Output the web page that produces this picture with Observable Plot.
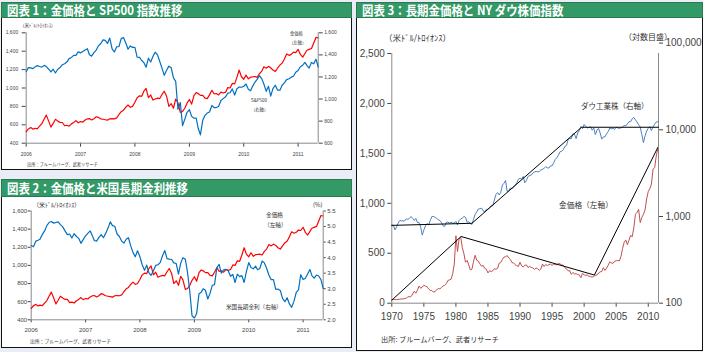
<!DOCTYPE html>
<html><head><meta charset="utf-8">
<script src="https://cdn.jsdelivr.net/npm/d3@7"></script>
<script src="https://cdn.jsdelivr.net/npm/@observablehq/plot@0.6"></script>
<style>
body{margin:0;background:#fff;}
#page{position:relative;width:703px;height:352px;background:#eaedf6;overflow:hidden;font-family:"Noto Sans CJK JP",sans-serif;}
.box{position:absolute;background:#fff;border:1px solid #111;box-sizing:border-box;}
.hdr{position:absolute;background:#339966;color:#fff;font-weight:bold;font-size:13px;line-height:1;white-space:nowrap;box-sizing:border-box;border:1px solid #2a7a50;}
.hdr span{position:absolute;top:50%;transform:translateY(-52%) scaleX(0.88);transform-origin:0 50%;}
.note{position:absolute;white-space:nowrap;color:#333;line-height:1;transform:translateY(-50%);}
</style></head>
<body><div id="page"></div>
<script>
// ---------- data: chart 1 & 2 (half-monthly, 2006-01 .. 2011-05) ----------
const gold = [
525,555,570,552,562,555,585,612,660,705,640,575,615,660,640,625,625,590,595,585,610,625,645,622,
635,630,652,665,668,652,665,688,680,665,660,655,650,665,668,665,675,712,742,757,792,815,790,800,
845,895,915,910,965,995,895,925,870,880,890,885,930,965,910,800,830,780,880,840,735,745,780,835,
875,825,920,950,940,920,920,890,885,925,975,935,940,925,955,945,955,1005,1000,1050,1045,1115,1195,1125,
1095,1140,1100,1118,1120,1125,1115,1155,1180,1230,1215,1235,1220,1195,1180,1215,1250,1270,1315,1370,1355,1365,1390,1385,
1420,1365,1335,1375,1410,1420,1430,1490,1550,1545];
const sp500 = [
1248,1285,1282,1275,1291,1303,1295,1289,1305,1294,1270,1245,1270,1236,1270,1285,1311,1320,1335,1366,1377,1396,1396,1427,
1418,1431,1445,1456,1403,1388,1420,1444,1482,1501,1536,1532,1503,1552,1455,1426,1473,1476,1547,1557,1508,1451,1481,1468,
1468,1380,1378,1349,1330,1288,1370,1335,1385,1424,1400,1340,1280,1215,1260,1298,1283,1192,1160,907,968,760,816,880,
903,843,826,827,735,676,811,852,873,882,942,923,923,932,987,1004,1021,1053,1057,1092,1036,1093,1109,1107,
1115,1136,1089,1075,1115,1150,1178,1211,1187,1136,1070,1115,1027,1095,1125,1080,1080,1125,1146,1176,1184,1198,1206,1242,
1258,1293,1307,1332,1305,1281,1332,1319,1361,1290];
const us10y = [
4.39,4.35,4.53,4.56,4.59,4.74,4.86,5.03,5.13,5.16,5.11,5.13,5.15,5.06,4.99,4.86,4.74,4.76,4.63,4.77,4.68,4.62,4.46,4.58,
4.70,4.78,4.86,4.70,4.55,4.53,4.65,4.74,4.64,4.78,4.95,5.15,5.03,5.01,4.76,4.68,4.53,4.47,4.59,4.64,4.37,4.16,4.03,4.22,
4.03,3.78,3.59,3.76,3.52,3.43,3.58,3.75,3.77,3.84,4.06,4.23,3.97,3.95,3.94,3.83,3.81,3.47,3.82,4.00,3.95,3.52,2.92,2.13,
2.06,2.20,2.84,2.89,3.00,2.95,2.67,2.85,3.11,3.13,3.68,3.78,3.50,3.61,3.62,3.58,3.40,3.46,3.20,3.47,3.39,3.42,3.20,3.55,
3.84,3.68,3.64,3.73,3.61,3.65,3.89,3.83,3.66,3.44,3.29,3.29,2.98,2.99,2.94,2.69,2.58,2.71,2.51,2.40,2.60,2.88,2.96,3.45,
3.30,3.33,3.48,3.62,3.42,3.34,3.44,3.41,3.29,3.00];
const yearTicks12 = [2006,2007,2008,2009,2010,2011];

// ---------- data: chart 3 (quarterly, 1970 .. 2011.5) ----------
const goldLong = [
35,36,35,37, 38,40,42,43, 46,49,65,64, 66,92,120,100, 130,172,150,160, 180,170,165,142, 128,128,110,117, 132,149,143,158,
173,179,195,228, 233,240,296,392, 675,517,645,661, 557,495,410,428, 384,333,340,420, 480,430,422,393, 370,378,348,340,
303,325,317,325, 345,340,348,400, 408,438,462,465, 477,452,437,406, 404,385,375,368, 410,375,362,380, 383,357,368,358,
354,338,353,345, 329,342,392,367, 387,377,385,392, 379,391,387,383, 400,393,383,380, 355,344,324,325, 289,308,293,296,
287,282,256,299, 284,280,282,271, 266,261,268,279, 282,302,314,317, 356,328,351,379, 414,404,398,420, 424,428,424,469,
549,610,633,586, 631,679,665,754, 889,909,939,806, 858,890,934,1043, 1118,1148,1193,1343, 1356,1474,1550];
const dowLong = [
800,790,700,760, 840,900,890,890, 890,940,925,950, 1000,950,900,950, 850,850,760,610, 700,780,830,800, 900,1000,1000,980,
950,920,900,850, 780,770,860,860, 840,860,840,840, 880,800,900,940, 960,1000,980,860, 870,830,810,930, 1060,1130,1220,1230,
1250,1160,1130,1210, 1210,1270,1340,1330, 1550,1800,1890,1770, 1900,2300,2420,2600, 1940,1990,2130,2110, 2170,2300,2450,2690,
2750,2700,2900,2450, 2600,2900,2960,3000, 3170,3250,3320,3270, 3300,3440,3500,3600, 3750,3640,3620,3840, 3830,4160,4550,4780,
5100,5600,5650,5900, 6450,6600,7700,7950, 7900,9000,8900,7900, 9200,9800,10900,10300, 11500,10900,10500,10650,
10800,9900,10500,8800, 9900,10400,9200,7800, 8300,8300,9000,9500, 10500,10300,10400,10100, 10700,10500,10400,10500,
10800,11200,11100,11700, 12400,12400,13400,13900, 13000,12300,11400,10800, 8800,7100,8500,9700, 10400,10900,9800,10800,
11600,12300,12400];
const goldTrendYears = [1970, 1980.8, 2001.6, 2011.5];
const goldTrendValues = [30, 668, 282, 1560];
const dowTrendYears = [1970, 1982.5, 1999.6, 2011.6];
const dowTrendValues = [790, 835, 10700, 10700];
const yearTicks3 = [1970,1975,1980,1985,1990,1995,2000,2005,2010];

// ---------- derived ----------
const dates12 = gold.map((_, i) => new Date(Date.UTC(2006 + Math.floor(i / 24), Math.floor(i / 2) % 12, i % 2 ? 16 : 1)));
const dom12 = [dates12[0], dates12[dates12.length - 1]];
const yt12 = yearTicks12.map(y => new Date(Date.UTC(y, 0, 1)));
const years3 = goldLong.map((_, i) => 1970 + i / 4);
const dom3 = [1970, 2011.6];
const comma = d3.format(",");
const one = d3.format(".1f");

const page = document.getElementById("page");
const axisGray = "#8a8a8a";
function add(el){ el.style.position="absolute"; el.style.left="0"; el.style.top="0"; page.appendChild(el); }
function box(cls, x, y, w, h, txt){ const d=document.createElement("div"); d.className=cls; Object.assign(d.style,{left:x+"px",top:y+"px",width:w+"px",height:h+"px"}); if(txt){const s=document.createElement("span"); s.textContent=txt; s.style.left="5px"; d.appendChild(s);} page.appendChild(d); }
function note(t, x, y, size, extra){ const d=document.createElement("div"); d.className="note"; d.textContent=t; Object.assign(d.style,{left:x+"px",top:y+"px",fontSize:size+"px"}, extra||{}); page.appendChild(d); }
const st = (fs) => ({background:"transparent", overflow:"visible", fontFamily:"'Liberation Sans', Arial, sans-serif", fontSize: fs+"px", color:"#444"});

// panels
box("box", 1, 16, 351, 154);
box("hdr", 1, 2, 351, 16, "図表 1：金価格と SP500 指数推移");
box("box", 1, 195, 351, 153);
box("hdr", 1, 179, 351, 18, "図表 2：金価格と米国長期金利推移");
box("box", 356, 16, 347, 335);
box("hdr", 356, 2, 347, 16, "図表 3：長期金価格と NY ダウ株価指数");

// ---------- chart 1 ----------
const m1 = {width:703, height:352, marginLeft:25.7, marginRight:703-317.7, marginTop:32.3, marginBottom:352-142.7};
add(Plot.plot({...m1, style: st(5),
  x:{type:"utc", domain:dom12, ticks:yt12, tickFormat:d3.utcFormat("%Y"), tickSize:4, tickPadding:5, label:null},
  y:{domain:[400,1600], ticks:d3.range(400,1601,200), tickFormat:comma, tickSize:4, tickPadding:4, label:null},
  marks:[
    Plot.ruleY([400], {stroke:axisGray}),
    Plot.ruleX([dom12[0]], {stroke:axisGray}),
    Plot.lineY(gold, {x:dates12, y:gold, stroke:"#ff0000", strokeWidth:1.2})
  ]}));
add(Plot.plot({...m1, style: st(5),
  x:{type:"utc", domain:dom12, axis:null},
  y:{domain:[600,1600], ticks:d3.range(600,1601,200), tickFormat:comma, axis:"right", tickSize:4, tickPadding:2, label:null},
  marks:[
    Plot.ruleX([dom12[1]], {stroke:axisGray}),
    Plot.lineY(sp500, {x:dates12, y:sp500, stroke:"#0070c0", strokeWidth:1.2})
  ]}));
note("（米ﾄﾞﾙ/ﾄﾛｲｵﾝｽ）", 20, 25, 4.5);
note("金価格", 290, 32.5, 4.3);
note("（左軸）", 289, 41.5, 4.3);
note("S&P500", 251, 99.5, 4.5);
note("（右軸）", 251, 108.5, 4.3);
note("出所：ブルームバーグ、武者リサーチ", 27, 163.5, 4.2);

// ---------- chart 2 ----------
const m2 = {width:703, height:352, marginLeft:30.7, marginRight:703-322.7, marginTop:210.5, marginBottom:352-319.3};
add(Plot.plot({...m2, style: st(6),
  x:{type:"utc", domain:dom12, ticks:yt12, tickFormat:d3.utcFormat("%Y"), tickSize:3, tickPadding:5, label:null},
  y:{domain:[400,1600], ticks:d3.range(400,1601,200), tickFormat:comma, tickSize:3, tickPadding:1, label:null},
  marks:[
    Plot.ruleY([400], {stroke:axisGray}),
    Plot.ruleX([dom12[0]], {stroke:axisGray}),
    Plot.lineY(gold, {x:dates12, y:gold, stroke:"#ff0000", strokeWidth:1.2})
  ]}));
add(Plot.plot({...m2, style: st(6),
  x:{type:"utc", domain:dom12, axis:null},
  y:{domain:[2,5.5], ticks:d3.range(2,5.51,0.5), tickFormat:one, axis:"right", tickSize:2, tickPadding:2, label:null},
  marks:[
    Plot.ruleX([dom12[1]], {stroke:axisGray}),
    Plot.lineY(us10y, {x:dates12, y:us10y, stroke:"#0070c0", strokeWidth:1.2})
  ]}));
note("（米ﾄﾞﾙ/ﾄﾛｲｵﾝｽ）", 33, 204.5, 6);
note("(%)", 313, 204.5, 6);
note("金価格", 266, 214.5, 5.7);
note("（左軸）", 264, 224.5, 5.7);
note("米国長期金利（右軸）", 226, 307.5, 5.6);
note("出所：ブルームバーグ、武者リサーチ", 30, 340.5, 4.8);

// ---------- chart 3 ----------
const m3 = {width:703, height:352, marginLeft:391.3, marginRight:703-658, marginTop:53, marginBottom:352-302.7};
add(Plot.plot({...m3, style: st(10),
  x:{domain:dom3, ticks:yearTicks3, tickFormat:d=>String(d), tickSize:4, tickPadding:6, label:null},
  y:{domain:[0,2500], ticks:d3.range(0,2501,500), tickFormat:comma, tickSize:4, tickPadding:3, label:null},
  marks:[
    Plot.ruleY([0], {stroke:axisGray}),
    Plot.ruleX([dom3[0]], {stroke:axisGray}),
    Plot.lineY(goldLong, {x:years3, y:goldLong, stroke:"#c0504d", strokeWidth:1}),
    Plot.line(goldTrendValues, {x:goldTrendYears, y:goldTrendValues, stroke:"#000", strokeWidth:1})
  ]}));
add(Plot.plot({...m3, style: st(10),
  x:{domain:dom3, axis:null},
  y:{type:"log", domain:[100,100000], range:[302.7, 42.6], ticks:[100,1000,10000,100000], tickFormat:comma, axis:"right", tickSize:4, tickPadding:3, label:null},
  marks:[
    Plot.ruleX([dom3[1]], {stroke:axisGray}),
    Plot.lineY(dowLong, {x:years3, y:dowLong, stroke:"#4f81bd", strokeWidth:1}),
    Plot.line(dowTrendValues, {x:dowTrendYears, y:dowTrendValues, stroke:"#000", strokeWidth:1})
  ]}));
note("（米ﾄﾞﾙ/ﾄﾛｲｵﾝｽ）", 384, 37, 8.5);
note("（対数目盛）", 624, 37, 8);
note("ダウ工業株（右軸）", 581, 106, 7.5);
note("金価格（左軸）", 559, 205, 7.7);
note("出所: ブルームバーグ、武者リサーチ", 381, 340, 7.2);
</script>
</body></html>
